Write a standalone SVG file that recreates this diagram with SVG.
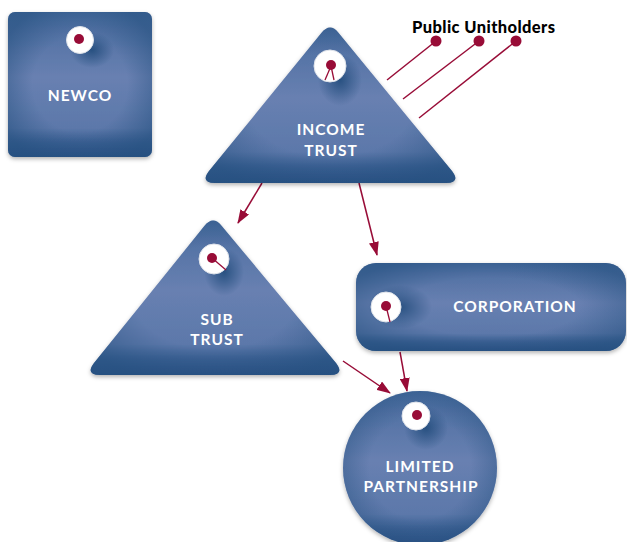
<svg xmlns="http://www.w3.org/2000/svg" width="627" height="542" viewBox="0 0 627 542">
<style>
.lbl{font-family:Lato,"Liberation Sans",sans-serif;font-weight:700;font-size:15.5px;letter-spacing:1px;fill:#ffffff;text-anchor:middle}
.pub{font-family:Lato,"Liberation Sans",sans-serif;font-weight:900;font-size:16.5px;letter-spacing:0.4px;fill:#000000}
.body{fill:url(#bodyG);filter:url(#sh)}
.edge{fill:url(#edgeG)}
.hole{fill:#ffffff;stroke:#dfe3ea;stroke-width:1}
.dot{fill:#980c37}
.conn{stroke:#980c37;stroke-width:1.5;fill:none}
.stub{stroke:#980c37;stroke-width:1.3;fill:none}
.groove{fill:url(#grooveG)}
</style>
<defs>
<linearGradient id="bodyG" x1="0" y1="0" x2="0" y2="1">
<stop offset="0" stop-color="#4a6c9f"/>
<stop offset="0.45" stop-color="#6880b1"/>
<stop offset="0.8" stop-color="#5c78aa"/>
<stop offset="0.9" stop-color="#3a5f92"/>
<stop offset="1" stop-color="#2a5184"/>
</linearGradient>
<radialGradient id="edgeG" cx="0.5" cy="0.5" r="0.6">
<stop offset="0.55" stop-color="#24507f" stop-opacity="0"/>
<stop offset="1" stop-color="#24507f" stop-opacity="0.6"/>
</radialGradient>
<radialGradient id="grooveG" cx="0.5" cy="0.5" r="0.5">
<stop offset="0" stop-color="#1f4a7a" stop-opacity="0.85"/>
<stop offset="1" stop-color="#1f4a7a" stop-opacity="0"/>
</radialGradient>
<filter id="sh" x="-10%" y="-10%" width="120%" height="125%">
<feDropShadow dx="0" dy="2" stdDeviation="2" flood-color="#000" flood-opacity="0.3"/>
</filter>
<marker id="ah" viewBox="0 0 14 10" refX="13" refY="5" markerWidth="14" markerHeight="10" markerUnits="userSpaceOnUse" orient="auto">
<path d="M0,0 L14,5 L0,10 Z" fill="#980c37"/>
</marker>
</defs>

<g id="connectors">
<line class="conn" x1="262" y1="183" x2="238" y2="223" marker-end="url(#ah)"/>
<line class="conn" x1="359" y1="183" x2="377" y2="255" marker-end="url(#ah)"/>
<line class="conn" x1="343" y1="361" x2="390" y2="393" marker-end="url(#ah)"/>
<line class="conn" x1="400" y1="352" x2="407" y2="391" marker-end="url(#ah)"/>
<line class="conn" x1="436" y1="41" x2="387" y2="80"/>
<line class="conn" x1="479" y1="41" x2="403" y2="99"/>
<line class="conn" x1="516" y1="41" x2="419" y2="118"/>
</g>

<g id="public-unitholders">
<text class="pub" x="412" y="33">Public Unitholders</text>
<circle class="dot" cx="436" cy="41" r="5.5"/>
<circle class="dot" cx="479" cy="41" r="5.5"/>
<circle class="dot" cx="516" cy="41" r="5.5"/>
</g>

<g id="newco">
<rect class="body" x="8" y="12" width="144" height="145" rx="7"/>
<rect class="edge" x="8" y="12" width="144" height="145" rx="7"/>
<ellipse class="groove" cx="92" cy="50" rx="22" ry="18"/>
<circle class="hole" cx="80" cy="40" r="13.5"/>
<circle class="dot" cx="79" cy="39" r="5"/>
<text class="lbl" x="80" y="101">NEWCO</text>
</g>

<g id="income-trust">
<path class="body" d="M321.3,33 Q330,22 338.7,32.9 L452,171 Q461,183 446,183 L215,183 Q200,183 209,171 Z"/>
<path class="edge" d="M321.3,33 Q330,22 338.7,32.9 L452,171 Q461,183 446,183 L215,183 Q200,183 209,171 Z"/>
<ellipse class="groove" cx="340" cy="80" rx="22" ry="26"/>
<circle class="hole" cx="330" cy="66" r="16"/>
<line class="stub" x1="331" y1="66" x2="325" y2="80"/>
<line class="stub" x1="331" y1="66" x2="334" y2="80"/>
<circle class="dot" cx="331" cy="65" r="5"/>
<text class="lbl" x="331" y="135">INCOME</text>
<text class="lbl" x="331" y="156">TRUST</text>
</g>

<g id="sub-trust">
<path class="body" d="M204.3,226 Q213,215 221.8,225.9 L336,363 Q345,375 330,375 L100,375 Q85,375 94,363 Z"/>
<path class="edge" d="M204.3,226 Q213,215 221.8,225.9 L336,363 Q345,375 330,375 L100,375 Q85,375 94,363 Z"/>
<ellipse class="groove" cx="224" cy="272" rx="20" ry="24"/>
<circle class="hole" cx="214" cy="259" r="15"/>
<line class="stub" x1="212" y1="258" x2="226" y2="270"/>
<circle class="dot" cx="212" cy="258" r="5"/>
<text class="lbl" x="217" y="325">SUB</text>
<text class="lbl" x="217" y="345">TRUST</text>
</g>

<g id="corporation">
<rect class="body" x="356" y="263" width="270" height="88" rx="20"/>
<rect class="edge" x="356" y="263" width="270" height="88" rx="20"/>
<ellipse class="groove" cx="400" cy="307" rx="32" ry="22"/>
<circle class="hole" cx="386" cy="307" r="15"/>
<line class="stub" x1="386" y1="306" x2="390" y2="322"/>
<circle class="dot" cx="386" cy="306" r="5"/>
<text class="lbl" x="515" y="312">CORPORATION</text>
</g>

<g id="limited-partnership">
<circle class="body" cx="420" cy="468" r="77"/>
<circle class="edge" cx="420" cy="468" r="77"/>
<ellipse class="groove" cx="426" cy="428" rx="22" ry="22"/>
<circle class="hole" cx="416" cy="416" r="14"/>
<circle class="dot" cx="417" cy="415" r="5"/>
<text class="lbl" x="420" y="472">LIMITED</text>
<text class="lbl" x="421" y="492">PARTNERSHIP</text>
</g>
</svg>
